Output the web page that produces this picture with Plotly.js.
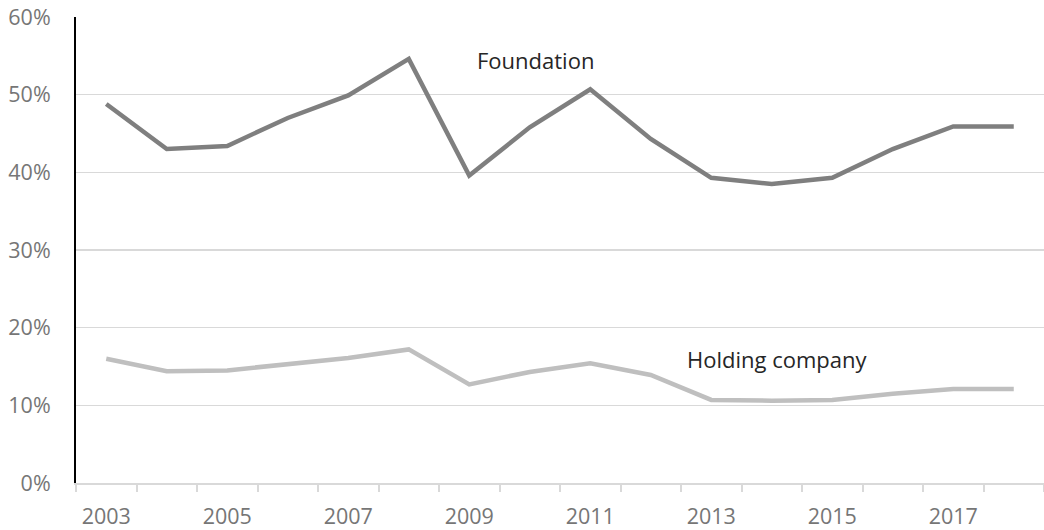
<!DOCTYPE html>
<html><head><meta charset="utf-8">
<script src="https://cdn.plot.ly/plotly-3.0.1.min.js"></script>
<style>html,body{margin:0;padding:0;background:#fff}#chart{width:1044px;height:530px}</style>
</head><body><div id="chart"></div>
<script>
const years = [2003,2004,2005,2006,2007,2008,2009,2010,2011,2012,2013,2014,2015,2016,2017,2018];
const foundation = [0.488,0.430,0.434,0.470,0.499,0.546,0.396,0.458,0.507,0.443,0.393,0.385,0.393,0.430,0.459,0.459];
const holding = [0.160,0.144,0.145,0.153,0.161,0.172,0.127,0.143,0.154,0.139,0.107,0.106,0.107,0.115,0.121,0.121];
const xTickYears = [2003,2005,2007,2009,2011,2013,2015,2017];
const yTicks = [0,0.1,0.2,0.3,0.4,0.5,0.6];
const seriesNames = ['Foundation','Holding company'];

const font = 'Open Sans, Noto Sans, sans-serif';
const traces = [
  {x: years, y: foundation, name: seriesNames[0], mode: 'lines', line: {color: '#7f7f7f', width: 4.5}},
  {x: years, y: holding, name: seriesNames[1], mode: 'lines', line: {color: '#bfbfbf', width: 4.5}}
];
const layout = {
  width: 1044, height: 530,
  margin: {l: 76, r: 0, t: 17, b: 47},
  paper_bgcolor: '#fff', plot_bgcolor: '#fff',
  showlegend: false,
  font: {family: font, color: '#767676', size: 21.5},
  xaxis: {
    range: [2002.5, 2018.5], tickmode: 'array', tickvals: xTickYears, ticktext: xTickYears.map(String),
    ticks: '', showgrid: false, zeroline: false, showline: true, linecolor: '#d9d9d9', linewidth: 2,
    ticklabelstandoff: 13,
    tickfont: {size: 21.5, color: '#767676'},
    minor: {tickmode: 'linear', tick0: 2002.5, dtick: 1, ticks: 'outside', ticklen: 7, tickcolor: '#d9d9d9', tickwidth: 2, showgrid: false}
  },
  yaxis: {
    range: [0, 0.6], tickmode: 'array', tickvals: yTicks, tickformat: '.0%',
    showgrid: true, gridcolor: '#d9d9d9', gridwidth: 1.5, zeroline: false,
    showline: true, linecolor: '#000', linewidth: 2, ticks: '', ticklabelstandoff: 19,
    tickfont: {size: 21.5, color: '#767676'}
  },
  annotations: [
    {x: 2010.1, y: 0.545, xref: 'x', yref: 'y', text: seriesNames[0], showarrow: false, font: {size: 22, color: '#262626', family: font}},
    {x: 2014.08, y: 0.16, xref: 'x', yref: 'y', text: seriesNames[1], showarrow: false, font: {size: 22, color: '#262626', family: font}}
  ]
};
Plotly.newPlot('chart', traces, layout, {displayModeBar: false, staticPlot: true});
</script></body></html>
